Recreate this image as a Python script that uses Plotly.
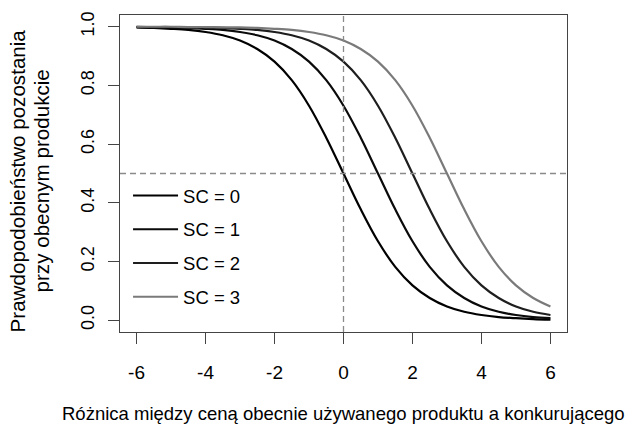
import plotly.graph_objects as go

x_vals = [-6.0, -5.5, -5.0, -4.5, -4.0, -3.5, -3.0, -2.5, -2.0, -1.5, -1.0, -0.5,
          0.0, 0.5, 1.0, 1.5, 2.0, 2.5, 3.0, 3.5, 4.0, 4.5, 5.0, 5.5, 6.0]

sc0 = [0.998, 0.996, 0.993, 0.989, 0.982, 0.971, 0.953, 0.924, 0.881, 0.818, 0.731, 0.622,
       0.500, 0.378, 0.269, 0.182, 0.119, 0.076, 0.047, 0.029, 0.018, 0.011, 0.007, 0.004, 0.002]
sc1 = [0.999, 0.998, 0.998, 0.996, 0.993, 0.989, 0.982, 0.971, 0.953, 0.924, 0.881, 0.818,
       0.731, 0.622, 0.500, 0.378, 0.269, 0.182, 0.119, 0.076, 0.047, 0.029, 0.018, 0.011, 0.007]
sc2 = [1.000, 0.999, 0.999, 0.998, 0.998, 0.996, 0.993, 0.989, 0.982, 0.971, 0.953, 0.924,
       0.881, 0.818, 0.731, 0.622, 0.500, 0.378, 0.269, 0.182, 0.119, 0.076, 0.047, 0.029, 0.018]
sc3 = [1.000, 1.000, 1.000, 0.999, 0.999, 0.998, 0.998, 0.996, 0.993, 0.989, 0.982, 0.971,
       0.953, 0.924, 0.881, 0.818, 0.731, 0.622, 0.500, 0.378, 0.269, 0.182, 0.119, 0.076, 0.047]

series_names = ["SC = 0", "SC = 1", "SC = 2", "SC = 3"]
series_values = [sc0, sc1, sc2, sc3]
series_colors = ["#000000", "#0a0a0a", "#1e1e1e", "#7a7a7a"]

x_ticks = [-6, -4, -2, 0, 2, 4, 6]
y_ticks = [0.0, 0.2, 0.4, 0.6, 0.8, 1.0]
y_ticklabels = ["0.0", "0.2", "0.4", "0.6", "0.8", "1.0"]

x_title = "Różnica między ceną obecnie używanego produktu a konkurującego"
y_title_lines = ["Prawdopodobieństwo pozostania", "przy obecnym produkcie"]

FONT = "Liberation Sans, Arial, sans-serif"

fig = go.Figure()
for i, (name, vals, col) in enumerate(zip(series_names, series_values, series_colors)):
    fig.add_trace(go.Scatter(
        x=x_vals, y=vals, mode="lines", name=name,
        line=dict(color=col, width=2.2, shape="spline"),
        legendgroup=f"g{i}",
    ))

fig.add_hline(y=0.5, line=dict(color="#8a8a8a", width=1.3, dash="6px,4px"))
fig.add_vline(x=0, line=dict(color="#8a8a8a", width=1.3, dash="6px,4px"))

y_title_annots = [
    dict(text=line, xref="paper", yref="paper", x=xp, y=0.475,
         xanchor="center", yanchor="middle", textangle=-90, showarrow=False,
         font=dict(size=20.6, family=FONT, color="black"))
    for line, xp in zip(y_title_lines, [-0.2304, -0.1767])
]

fig.update_layout(
    width=631, height=426,
    margin=dict(l=120, r=64, t=13, b=94),
    paper_bgcolor="white", plot_bgcolor="white",
    font=dict(family=FONT, color="black", size=18),
    showlegend=True,
    legend=dict(
        x=0.018, y=0.489, xanchor="left", yanchor="top",
        font=dict(size=18.5, family=FONT, color="black"),
        bgcolor="rgba(0,0,0,0)", borderwidth=0,
        itemwidth=45, tracegroupgap=6.7,
    ),
    xaxis=dict(
        range=[-6.48, 6.48], tickvals=x_ticks, ticktext=[str(v) for v in x_ticks],
        showgrid=False, zeroline=False,
        showline=True, mirror=True, linecolor="#444444", linewidth=1.3,
        ticks="outside", ticklen=11, tickcolor="#444444", tickwidth=1.3,
        tickfont=dict(size=19, family=FONT, color="black"),
        ticklabelstandoff=12,
    ),
    yaxis=dict(
        range=[-0.04, 1.04], tickvals=y_ticks, ticktext=y_ticklabels,
        showgrid=False, zeroline=False,
        showline=True, mirror=True, linecolor="#444444", linewidth=1.3,
        ticks="outside", ticklen=11, tickcolor="#444444", tickwidth=1.3,
        tickangle=-90,
        tickfont=dict(size=18, family=FONT, color="black"),
        ticklabelstandoff=7,
    ),
    annotations=[
        dict(text=x_title, xref="paper", yref="paper", x=0.5, y=-0.257,
             xanchor="center", yanchor="middle", showarrow=False,
             font=dict(size=18.5, family=FONT, color="black")),
    ] + y_title_annots,
)

fig.write_html("out.html")
